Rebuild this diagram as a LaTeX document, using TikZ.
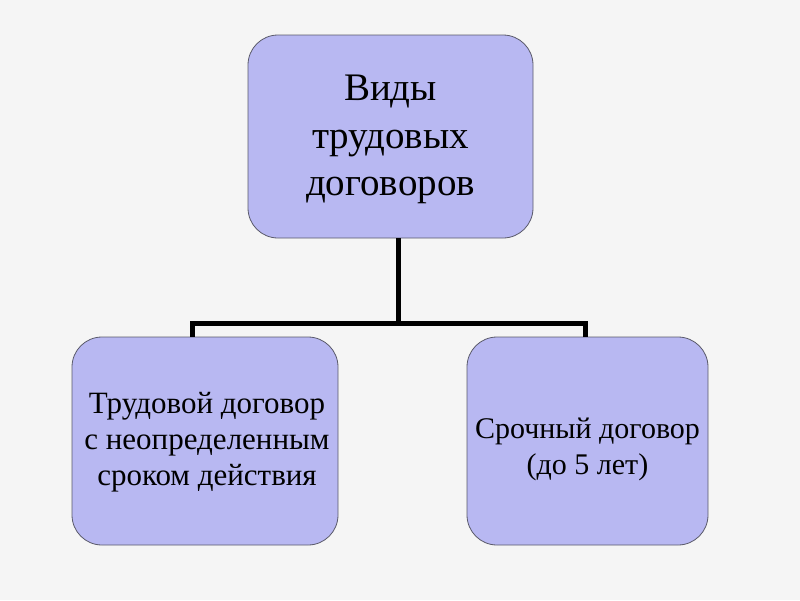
\documentclass[tikz,border=0pt]{standalone}
\usepackage{fontspec}
\setmainfont{Liberation Serif}
\definecolor{boxfill}{HTML}{B8B8F2}
\definecolor{boxline}{HTML}{5A5A6A}
\definecolor{bg}{HTML}{F5F5F5}
\begin{document}
\begin{tikzpicture}[x=1pt,y=-1pt,
  box/.style={draw=boxline, line width=0.8pt, fill=boxfill, rounded corners=30pt,
    inner sep=0pt},
  txt/.style={align=center, inner sep=0pt, text=black},
  conn/.style={line width=5pt, draw=black}]
\fill[bg] (0,0) rectangle (800,600);
\useasboundingbox (0,0) rectangle (800,600);
\node[box, minimum width=285pt, minimum height=203pt] (top) at (390.5,136.5) {};
\node[txt, font=\fontsize{39}{47.5}\selectfont] (toptext) at ([yshift=-3pt]top.center)
  {Виды\\трудовых\\договоров};
\node[box, minimum width=266pt, minimum height=208pt] (left) at (205,441) {};
\node[txt, font=\fontsize{31}{36}\selectfont] (lefttext) at ([xshift=2pt,yshift=-1pt]left.center)
  {Трудовой договор\\с неопределенным\\сроком действия};
\node[box, minimum width=241pt, minimum height=208pt] (right) at (587.5,441) {};
\node[txt, font=\fontsize{30}{36}\selectfont] (righttext) at ([yshift=-8pt]right.center)
  {Срочный договор\\(до 5 лет)};
\coordinate (j) at (398,323);
\draw[conn] (j |- top.south) -- (j);
\draw[conn] (j) -| ([xshift=-13pt]left.north);
\draw[conn] (j) -| ([xshift=-2.5pt]right.north);
\end{tikzpicture}
\end{document}
